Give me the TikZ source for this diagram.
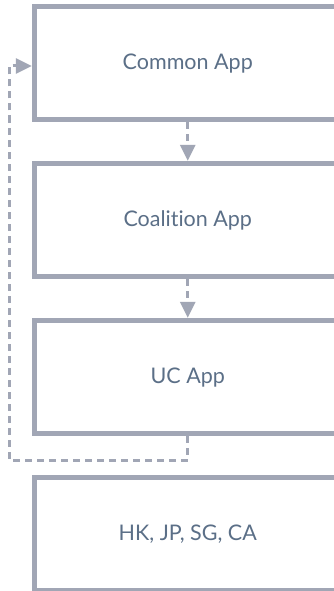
\documentclass[tikz,border=0pt]{standalone}
\usepackage{fontspec}
\setmainfont[Ligatures=NoCommon]{Lato}
\usetikzlibrary{arrows.meta,calc}
\definecolor{boxline}{HTML}{A1A6B5}
\definecolor{boxtext}{HTML}{5B6F87}
\begin{document}
\begin{tikzpicture}[x=1pt,y=-1pt,
  appbox/.style={draw=boxline,line width=5.5pt,rectangle,minimum width=306.5pt,minimum height=113pt,
    text=boxtext,font=\fontsize{21.5}{24}\selectfont,inner sep=0pt,text height=13pt,text depth=0pt},
  flow/.style={draw=boxline,line width=3pt,dash pattern=on 7pt off 5pt,
    -{Triangle[length=16pt,width=15pt]}}]
\useasboundingbox (0,0) rectangle (334,591);
\fill[white] (0,0) rectangle (334,591);
\node[appbox] (a) at (187.75,63) {Common App};
\node[appbox] (b) at (187.75,220) {Coalition App};
\node[appbox] (c) at (187.75,377) {UC App};
\node[appbox] (d) at (187.75,534) {HK, JP, SG, CA};
\draw[flow] (a.south) -- (b.north);
\draw[flow] (b.south) -- (c.north);
\coordinate (loopend) at ($(a.west)+(0,3)$);
\draw[flow] (c.south) |- (9,460) |- (loopend);
\end{tikzpicture}
\end{document}
